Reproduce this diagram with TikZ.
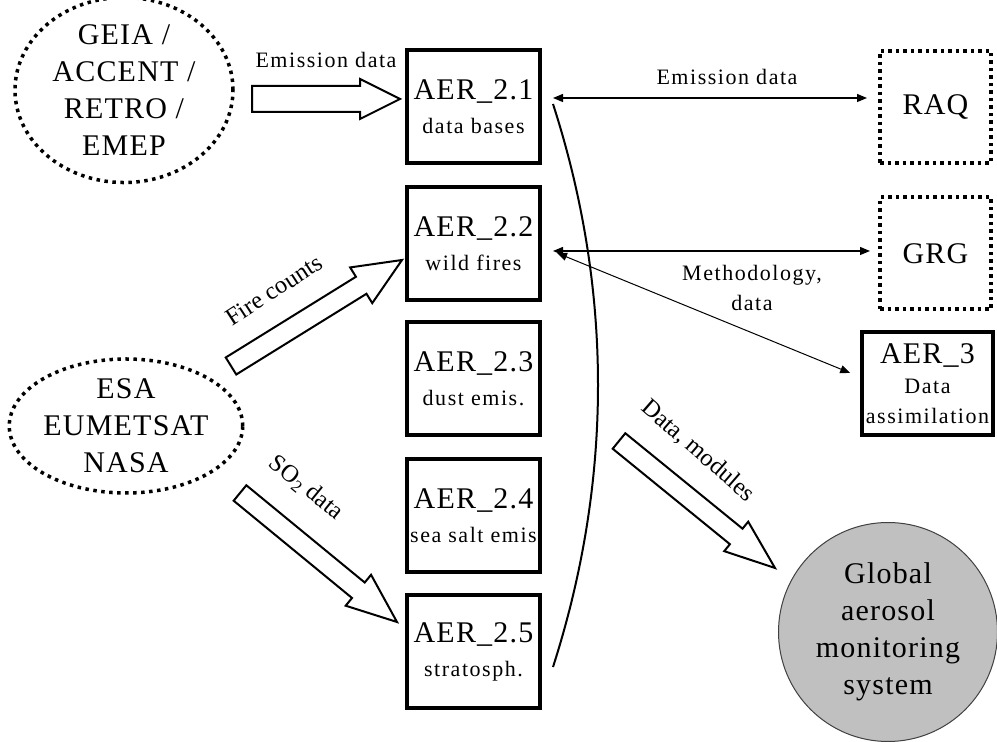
\documentclass[tikz,border=0pt]{standalone}
\usepackage{fontspec}
\setmainfont{Liberation Serif}
\newfontfamily\bigsp[LetterSpace=4]{Liberation Serif}
\newfontfamily\smsp[LetterSpace=7]{Liberation Serif}
\usetikzlibrary{shapes.geometric,arrows.meta,calc}
\definecolor{globfill}{HTML}{C0C0C0}
\newcommand{\blockarrow}[5]{%
  \coordinate (ba-c) at ($(#2)!#5!(#1)$);
  \draw[blockarr] ($(#1)!#3!90:(#2)$) -- ($(ba-c)!#3!90:(#2)$) -- ($(ba-c)!#4!90:(#2)$)
    -- (#2) -- ($(ba-c)!#4!-90:(#2)$) -- ($(ba-c)!#3!-90:(#2)$) -- ($(#1)!#3!-90:(#2)$) -- cycle;}
\begin{document}
\begin{tikzpicture}[x=1pt,y=1pt,
  bigtxt/.style={font=\bigsp\fontsize{30}{37}\selectfont},
  lbl/.style={font=\smsp\fontsize{22}{30}\selectfont, inner sep=0pt, align=center},
  rlbl/.style={font=\fontsize{24.5}{30}\selectfont, inner sep=0pt},
  dotell/.style={ellipse, draw, line width=3.5pt, dash pattern=on 3.5pt off 4.5pt, inner sep=0pt, align=center, bigtxt},
  box/.style={draw, line width=4pt, minimum width=133pt, minimum height=113pt, inner sep=0pt, align=center, font=\bigsp\fontsize{30}{34}\selectfont},
  dotbox/.style={draw, line width=4pt, dash pattern=on 3.5pt off 4pt, minimum width=111pt, minimum height=112pt, inner sep=0pt, align=center, bigtxt},
  blockarr/.style={draw, line width=2pt, fill=white, line join=miter},
  thinarr/.style={line width=1.2pt, {Triangle[length=10pt,width=8pt]}-{Triangle[length=10pt,width=8pt]}},
  bracecurve/.style={line width=2pt}]
\useasboundingbox (0,0) rectangle (997,742);

% source ellipses
\node[dotell, minimum width=218pt, minimum height=160pt] (geia) at (124,652) {GEIA /\\ACCENT /\\RETRO /\\EMEP};
\node[dotell, minimum width=220pt, minimum height=134pt] (esa) at (126,316) {ESA\\EUMETSAT\\NASA};

% AER_2 boxes
\newcommand{\subt}[1]{{\smsp\fontsize{22}{34}\selectfont #1}}
\node[box] (b1) at (473.5,635) {AER\_2.1\\\subt{data bases}};
\node[box] (b2) at (473.5,498) {AER\_2.2\\\subt{wild fires}};
\node[box] (b3) at (473.5,363) {AER\_2.3\\\subt{dust emis.}};
\node[box] (b4) at (473.5,226) {AER\_2.4\\\subt{sea salt emis}};
\node[box] (b5) at (473.5,90) {AER\_2.5\\\subt{stratosph.}};

% right side
\node[dotbox] (raq) at (935.5,635) {RAQ};
\node[dotbox] (grg) at (935.5,488.5) {GRG};
\node[draw, line width=3.5pt, minimum width=131pt, minimum height=103pt, inner sep=0pt, align=center,
      font=\smsp\fontsize{22}{30}\selectfont] (aer3) at (927.5,358.5) {{\bigsp\fontsize{30}{30}\selectfont AER\_3}\\Data\\assimilation};
\node[circle, draw=black!75, line width=1pt, fill=globfill, minimum size=219pt, inner sep=0pt, align=center, bigtxt] (glob) at (888,110)
  {Global\\aerosol\\monitoring\\system};

% labels
\node[lbl] (lemis1) at (326,682) {Emission data};
\node[lbl] (lemis2) at (727,665) {Emission data};
\node[lbl] (lmeth) at (752,454) {Methodology,\\data};
\node[rlbl, rotate=33] (lfire) at (274,452) {Fire counts};
\node[rlbl, rotate=-39] (lso2) at (306,254) {SO\textsubscript{2} data};
\node[rlbl, rotate=-41] (ldm) at (698,291) {Data, modules};

% thin arrows
\draw[thinarr] ([shift={(11pt,9pt)}]b1.east) -- ([shift={(-11pt,9pt)}]raq.west);
\draw[thinarr] ([shift={(11pt,-7pt)}]b2.east) -- ([shift={(-8pt,2.5pt)}]grg.west);
\draw[thinarr, line width=1pt] ([shift={(15pt,-9pt)}]b2.east) -- ([shift={(-10pt,10.5pt)}]aer3.west);

% bracket curve
\coordinate (ctop) at (553,638);
\coordinate (cbot) at (553,75);
\draw[bracecurve] (ctop) .. controls (613,452) and (613,262) .. (cbot);

% block arrows
\coordinate (ea-t) at (252,643); \coordinate (ea-h) at (400,643);
\blockarrow{ea-t}{ea-h}{13pt}{20pt}{40pt}
\coordinate (fa-t) at (231,376); \coordinate (fa-h) at (402,482);
\blockarrow{fa-t}{fa-h}{10pt}{21pt}{48pt}
\coordinate (sa-t) at (240,249); \coordinate (sa-h) at (397,120);
\blockarrow{sa-t}{sa-h}{10pt}{20pt}{50pt}
\coordinate (da-t) at (619,301); \coordinate (da-h) at (775,174);
\blockarrow{da-t}{da-h}{10pt}{19pt}{50pt}
\end{tikzpicture}
\end{document}
